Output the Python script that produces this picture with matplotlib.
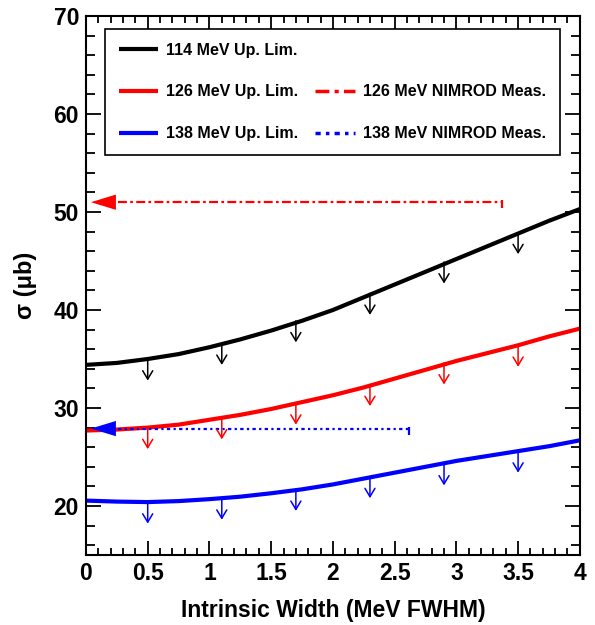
import matplotlib
matplotlib.use('Agg')
import matplotlib.pyplot as plt
from matplotlib.lines import Line2D
from matplotlib.ticker import MultipleLocator

plt.rcParams['font.family'] = ['Liberation Sans', 'DejaVu Sans']
plt.rcParams['font.weight'] = 'bold'

# intrinsic width grid (MeV FWHM)
width = [0, 0.25, 0.5, 0.75, 1.0, 1.25, 1.5, 1.75, 2.0, 2.25, 2.5, 2.75, 3.0,
         3.25, 3.5, 3.75, 4.0]
lim_114 = [34.4, 34.6, 35.0, 35.5, 36.2, 37.0, 37.9, 38.9, 40.0, 41.3, 42.6,
           43.9, 45.2, 46.5, 47.8, 49.1, 50.3]
lim_126 = [27.7, 27.8, 28.0, 28.3, 28.8, 29.3, 29.9, 30.6, 31.3, 32.1, 33.0,
           33.9, 34.8, 35.6, 36.4, 37.3, 38.1]
lim_138 = [20.55, 20.45, 20.4, 20.5, 20.7, 20.95, 21.3, 21.7, 22.2, 22.8,
           23.4, 24.0, 24.6, 25.1, 25.6, 26.1, 26.7]

# upper-limit arrows
arrow_x = [0.5, 1.1, 1.7, 2.3, 2.9, 3.5]
arrow_114 = [35.0, 36.6, 38.9, 41.7, 44.9, 47.9]
arrow_126 = [28.0, 29.0, 30.5, 32.4, 34.6, 36.4]
arrow_138 = [20.4, 20.8, 21.7, 23.0, 24.3, 25.6]
arrow_len = 2.2

# NIMROD measurements
nimrod_126 = 51.0
nimrod_126_end = 3.37
nimrod_138 = 27.9
nimrod_138_end = 2.62

fig = plt.figure(figsize=(5.95, 6.25), dpi=100)
ax = fig.add_axes([0.1445, 0.112, 0.830, 0.8624])

series = [(lim_114, arrow_114, 'black', '114 MeV Up. Lim.'),
          (lim_126, arrow_126, 'red', '126 MeV Up. Lim.'),
          (lim_138, arrow_138, 'blue', '138 MeV Up. Lim.')]
handles = []
for lim, arr, col, lab in series:
    h, = ax.plot(width, lim, color=col, lw=3, label=lab, solid_capstyle='butt')
    handles.append(h)
    for x, y in zip(arrow_x, arr):
        ax.annotate('', xy=(x, y - arrow_len), xytext=(x, y),
                    arrowprops=dict(arrowstyle='->,head_length=0.6,head_width=0.36',
                                    color=col, lw=1.1, shrinkA=0, shrinkB=0))

nim_styles = [(nimrod_126, nimrod_126_end, 'red', (0, (4, 1.5, 1.2, 1.5)),
               '126 MeV NIMROD Meas.'),
              (nimrod_138, nimrod_138_end, 'blue', (0, (1.5, 1.5, 1, 1.5)),
               '138 MeV NIMROD Meas.')]
nim_handles = []
for val, end, col, ls, lab in nim_styles:
    ax.plot([0.26, end], [val, val], color=col, lw=1.6, linestyle=ls)
    ax.plot([end], [val - 0.2], marker='|', markersize=6, mew=1.6, color=col)
    ax.annotate('', xy=(0.04, val), xytext=(0.25, val),
                arrowprops=dict(arrowstyle='-|>,head_length=1.8,head_width=0.55',
                                color=col, lw=0, shrinkA=0, shrinkB=0))
    nim_handles.append(Line2D([], [], color=col, lw=2.5, linestyle=ls, label=lab))

blank = Line2D([], [], linestyle='none', label='')
leg = ax.legend(handles + [blank] + nim_handles,
                [h.get_label() for h in handles] + [''] +
                [h.get_label() for h in nim_handles],
                ncol=2, loc='upper left', mode='expand',
                bbox_to_anchor=(0.0385, 0.742, 0.921, 0.234),
                prop={'size': 11.5, 'weight': 'bold'},
                handlelength=2.5, handletextpad=0.5, labelspacing=1.68,
                borderpad=0.85, borderaxespad=0, fancybox=False, framealpha=1,
                edgecolor='black')
leg.get_frame().set_linewidth(1.2)

ax.set_xlim(0, 4)
ax.set_ylim(15, 70)
ax.xaxis.set_major_locator(MultipleLocator(0.5))
ax.xaxis.set_minor_locator(MultipleLocator(0.1))
ax.yaxis.set_major_locator(MultipleLocator(10))
ax.yaxis.set_minor_locator(MultipleLocator(2))
ax.set_xticks([0, 0.5, 1, 1.5, 2, 2.5, 3, 3.5, 4])
ax.set_xticklabels(['0', '0.5', '1', '1.5', '2', '2.5', '3', '3.5', '4'])
ax.tick_params(which='both', direction='in', top=True, right=True, width=1.3,
               labelsize=16.5, pad=5)
ax.tick_params(axis='y', which='major', length=11)
ax.tick_params(axis='y', which='minor', length=6.5)
ax.tick_params(axis='x', which='major', length=10)
ax.tick_params(axis='x', which='minor', length=5)
for t in ax.get_xticklabels() + ax.get_yticklabels():
    t.set_fontweight('bold')
for s in ax.spines.values():
    s.set_linewidth(1.5)

ax.set_xlabel('Intrinsic Width (MeV FWHM)', fontsize=16.5, fontweight='bold',
              labelpad=10)
ax.set_ylabel('σ (μb)', fontsize=17, fontweight='bold', labelpad=12)

fig.savefig('out.png', dpi=100)
